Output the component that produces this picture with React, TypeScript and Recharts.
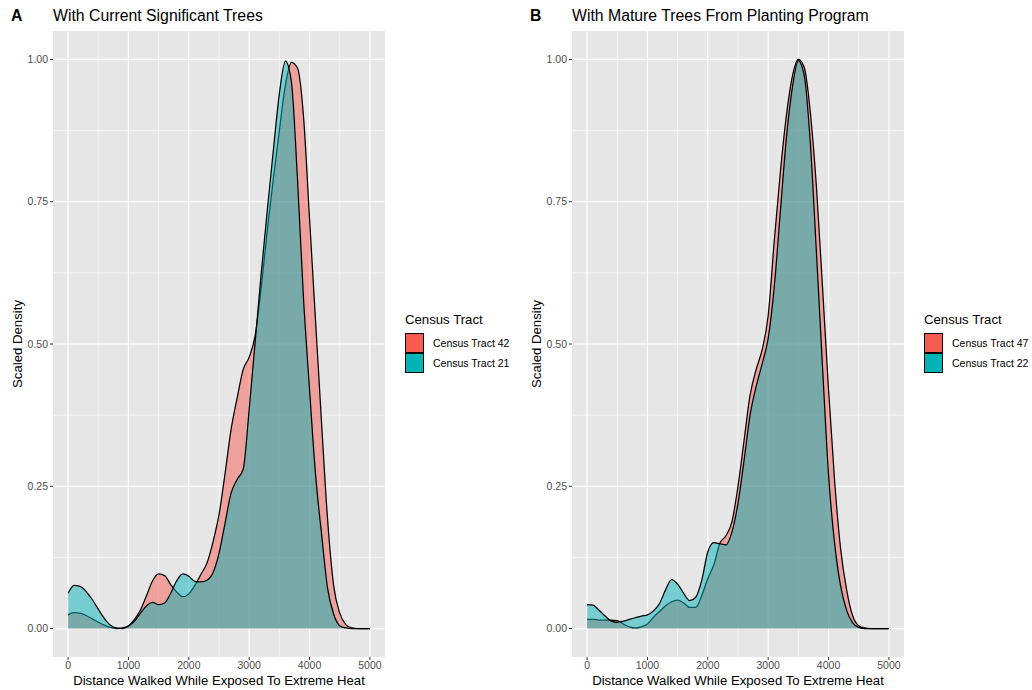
import { ComposedChart, Area, XAxis, YAxis, CartesianGrid } from "recharts";

const FONT = "'Liberation Sans', Arial, Helvetica, sans-serif";
const RED = "#F65C52";
const TEAL = "#03B4B7";
const PANEL_BG = "#E6E6E6";

// distance walked (x), every 100
const distance = [
  0, 100, 200, 300, 400, 500, 600, 700, 800, 900,
  1000, 1100, 1200, 1300, 1400, 1500, 1600, 1700, 1800, 1900,
  2000, 2100, 2200, 2300, 2400, 2500, 2600, 2700, 2800, 2900,
  3000, 3100, 3200, 3300, 3400, 3500, 3600, 3700, 3800, 3900,
  4000, 4100, 4200, 4300, 4400, 4500, 4600, 4700, 4800, 4900, 5000,
];

// panel A: current significant trees
const tract42 = [
  0.024, 0.028, 0.027, 0.023, 0.017, 0.011, 0.006, 0.002, 0.0, 0.001,
  0.005, 0.016, 0.033, 0.058, 0.084, 0.096, 0.093, 0.077, 0.064, 0.056,
  0.061, 0.076, 0.095, 0.115, 0.152, 0.2, 0.272, 0.35, 0.405, 0.455,
  0.477, 0.515, 0.6, 0.7, 0.79, 0.875, 0.955, 0.995, 0.985, 0.9,
  0.72, 0.54, 0.36, 0.19, 0.075, 0.027, 0.007, 0.001, 0, 0, 0,
];
const tract21 = [
  0.062, 0.076, 0.074, 0.065, 0.051, 0.034, 0.018, 0.006, 0.001, 0.0,
  0.004, 0.013, 0.027, 0.04, 0.046, 0.042, 0.045, 0.062, 0.084, 0.096,
  0.092, 0.083, 0.082, 0.085, 0.098, 0.132, 0.185, 0.238, 0.262, 0.28,
  0.385, 0.505, 0.625, 0.735, 0.84, 0.94, 0.997, 0.96, 0.79, 0.58,
  0.42, 0.27, 0.165, 0.07, 0.025, 0.005, 0.001, 0, 0, 0, 0,
];

// panel B: mature trees from planting program
const tract47 = [
  0.016, 0.016, 0.015, 0.015, 0.015, 0.014, 0.008, 0.003, 0.001, 0.003,
  0.008, 0.02, 0.03, 0.04, 0.047, 0.05, 0.045, 0.037, 0.037, 0.058,
  0.088, 0.112, 0.15, 0.163, 0.188, 0.25, 0.33, 0.41, 0.455, 0.49,
  0.55, 0.68, 0.8, 0.9, 0.97, 1.0, 0.985, 0.905, 0.775, 0.6,
  0.42, 0.26, 0.14, 0.068, 0.022, 0.005, 0.001, 0, 0, 0, 0,
];
const tract22 = [
  0.042, 0.041, 0.032, 0.022, 0.013, 0.011, 0.013, 0.016, 0.019, 0.022,
  0.024, 0.031, 0.044, 0.068, 0.086, 0.078, 0.062, 0.049, 0.055, 0.085,
  0.135, 0.151, 0.149, 0.147, 0.17, 0.22, 0.295, 0.375, 0.425, 0.465,
  0.51, 0.6, 0.73, 0.86, 0.95, 0.998, 0.97, 0.85, 0.66, 0.46,
  0.27, 0.15, 0.075, 0.032, 0.01, 0.002, 0, 0, 0, 0, 0,
];

const xTicks = [0, 1000, 2000, 3000, 4000, 5000];
const xMinor = [500, 1500, 2500, 3500, 4500];
const yTicks = [0, 0.25, 0.5, 0.75, 1];
const yMinor = [0.125, 0.375, 0.625, 0.875];

function buildRows(first: number[], second: number[]) {
  return distance.map((d, i) => ({ distance: d, first: first[i], second: second[i] }));
}

function LegendBox(props: { names: string[] }) {
  const colors = [RED, TEAL];
  return (
    <div style={{ position: "absolute", left: 405, top: 312, fontFamily: FONT }}>
      <div style={{ fontSize: 13.2, lineHeight: "16px", marginBottom: 5 }}>Census Tract</div>
      {props.names.map((n, i) => (
        <div key={n} style={{ display: "flex", alignItems: "center", height: 20 }}>
          <div
            style={{
              width: 19,
              height: 20,
              boxSizing: "border-box",
              background: colors[i],
              border: "1px solid #000",
              marginTop: i === 0 ? 0 : -1,
            }}
          />
          <span style={{ fontSize: 10.5, marginLeft: 9 }}>{n}</span>
        </div>
      ))}
    </div>
  );
}

function DensityPanel(props: {
  left: number;
  tag: string;
  title: string;
  rows: { distance: number; first: number; second: number }[];
  names: string[];
}) {
  const tick = { fill: "#4D4D4D", fontSize: 10.5, fontFamily: FONT };
  return (
    <div style={{ position: "absolute", left: props.left, top: 0, width: 513, height: 690 }}>
      <ComposedChart
        width={513}
        height={690}
        data={props.rows}
        margin={{ top: 31, right: 128, bottom: 0, left: 13 }}
      >
        <CartesianGrid
          fill={PANEL_BG}
          stroke="#FFFFFF"
          strokeWidth={0.6}
          horizontalValues={yMinor}
          verticalValues={xMinor}
        />
        <CartesianGrid
          stroke="#FFFFFF"
          strokeWidth={1.2}
          horizontalValues={yTicks}
          verticalValues={xTicks}
        />
        <XAxis
          dataKey="distance"
          type="number"
          domain={[-250, 5250]}
          ticks={xTicks}
          axisLine={false}
          tickLine={{ stroke: "#333333" }}
          tickSize={3}
          tickMargin={2}
          tick={tick}
          height={33}
          label={{
            value: "Distance Walked While Exposed To Extreme Heat",
            position: "insideBottom",
            offset: 5,
            style: { fill: "#000", fontSize: 13.2, fontFamily: FONT },
          }}
        />
        <YAxis
          type="number"
          domain={[-0.05, 1.05]}
          ticks={yTicks}
          tickFormatter={(v: number) => v.toFixed(2)}
          axisLine={false}
          tickLine={{ stroke: "#333333" }}
          tickSize={3}
          tickMargin={2}
          tick={tick}
          width={40}
          label={{
            value: "Scaled Density",
            angle: -90,
            position: "insideLeft",
            offset: 4,
            style: { fill: "#000", fontSize: 13.2, fontFamily: FONT, textAnchor: "middle" },
          }}
        />
        <Area
          dataKey="first"
          type="monotone"
          fill={RED}
          fillOpacity={0.5}
          stroke="#000"
          strokeWidth={1.25}
          dot={false}
          activeDot={false}
          isAnimationActive={false}
        />
        <Area
          dataKey="second"
          type="monotone"
          fill={TEAL}
          fillOpacity={0.5}
          stroke="#000"
          strokeWidth={1.25}
          dot={false}
          activeDot={false}
          isAnimationActive={false}
        />
      </ComposedChart>
      <div style={{ position: "absolute", left: 11, top: 7, fontFamily: FONT, fontSize: 15.8, fontWeight: 700 }}>
        {props.tag}
      </div>
      <div style={{ position: "absolute", left: 53, top: 7, fontFamily: FONT, fontSize: 15.8 }}>
        {props.title}
      </div>
      <LegendBox names={props.names} />
    </div>
  );
}

export default function App() {
  return (
    <div
      style={{
        position: "absolute",
        left: 0,
        top: 0,
        width: 1032,
        height: 690,
        background: "#FFFFFF",
        fontFamily: FONT,
      }}
    >
      <DensityPanel
        left={0}
        tag="A"
        title="With Current Significant Trees"
        rows={buildRows(tract42, tract21)}
        names={["Census Tract 42", "Census Tract 21"]}
      />
      <DensityPanel
        left={519}
        tag="B"
        title="With Mature Trees From Planting Program"
        rows={buildRows(tract47, tract22)}
        names={["Census Tract 47", "Census Tract 22"]}
      />
    </div>
  );
}
